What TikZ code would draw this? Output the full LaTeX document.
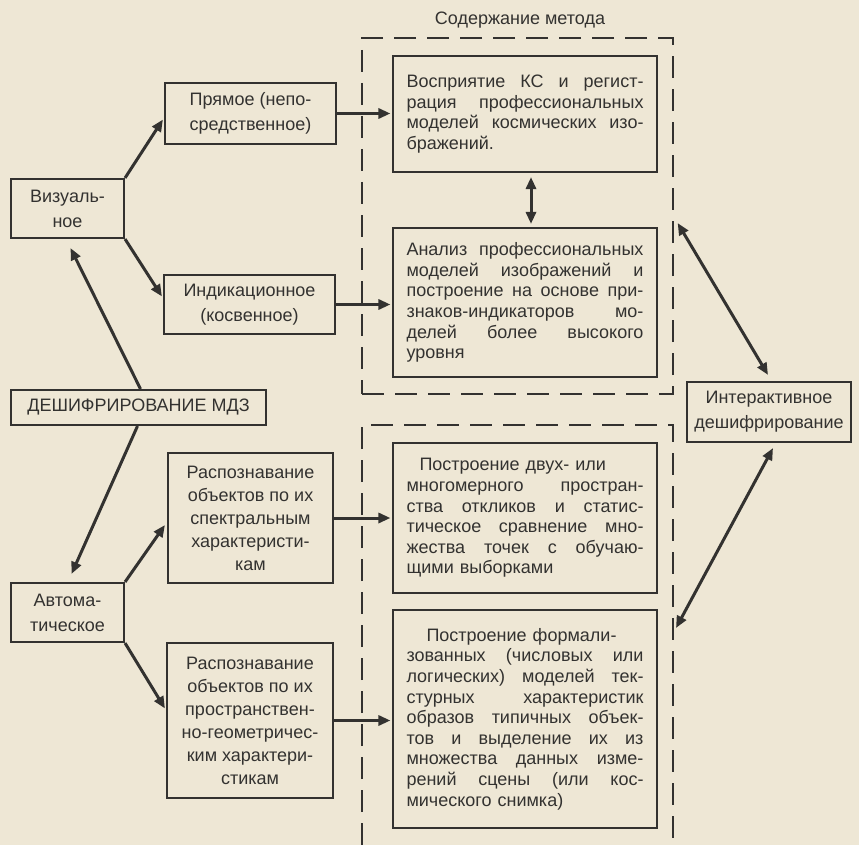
\documentclass[tikz,border=0pt]{standalone}
\usepackage{fontspec}
\setmainfont{Liberation Sans}
\usetikzlibrary{arrows.meta,calc}
\definecolor{bg}{HTML}{EEE7D5}
\definecolor{ink}{HTML}{333230}
\newcommand{\jl}[1]{{\spaceskip=\fontdimen2\font plus 1fil minus 0.1em\relax\makebox[237pt][s]{#1}}}
\tikzset{
  bx/.style={draw=ink, line width=2.1pt, text=ink, inner sep=0pt, align=center,
    font=\fontsize{18}{25}\selectfont},
  lbx/.style={bx, font=\fontsize{18}{23}\selectfont},
  rbx/.style={bx, align=left, text width=237pt, minimum width=264pt,
    font=\fontsize{18}{20.6}\selectfont},
  dashbox/.style={draw=ink, line width=1.3pt, dash pattern=on 22pt off 11pt},
  arr/.style={draw=ink, line width=3pt, -{Triangle[length=12pt,width=10pt]}},
  dbl/.style={draw=ink, line width=3pt, {Triangle[length=12pt,width=10pt]}-{Triangle[length=12pt,width=10pt]}}
}
\begin{document}
\begin{tikzpicture}[x=1pt,y=-1pt]
\fill[bg] (0,0) rectangle (859,845);
\useasboundingbox (0,0) rectangle (859,845);

% dashed groups
\node[dashbox, minimum width=311pt, minimum height=356pt, inner sep=0pt] (g1) at (517.5,216) {};
\draw[dashbox] (362,845) -- (362,425) -- (673,425) -- (673,845);
\coordinate (g2tip) at (676,628);
\node[text=ink, font=\fontsize{18}{20}\selectfont] (title) at (520,20) {Содержание метода};

% left column
\node[bx, minimum width=113pt, minimum height=59pt] (vis) at (67.5,208.5) {Визуаль-\\ное};
\node[bx, minimum width=255pt, minimum height=35pt] (desh) at (138.5,407.5) {ДЕШИФРИРОВАНИЕ МДЗ};
\node[bx, minimum width=113pt, minimum height=59pt] (avto) at (67.5,612.5) {Автома-\\тическое};

% middle column
\node[bx, minimum width=171pt, minimum height=61pt] (pryam) at (250.5,113.5) {Прямое (непо-\\средственное)};
\node[bx, minimum width=171pt, minimum height=59pt] (ind) at (249.5,304.5) {Индикационное\\(косвенное)};
\node[lbx, minimum width=165pt, minimum height=130pt] (rasp1) at (250.5,518) {Распознавание\\объектов по их\\спектральным\\характеристи-\\кам};
\node[lbx, minimum width=166pt, minimum height=155pt] (rasp2) at (250,720.5) {Распознавание\\объектов по их\\пространствен-\\но-геометричес-\\ким характери-\\стикам};

% right column
\node[rbx, minimum height=116pt] (vospr) at (525,114) {%
\jl{Восприятие КС и регист-}\\
\jl{рация профессиональных}\\
\jl{моделей космических изо-}\\
бражений.};
\node[rbx, minimum height=149pt] (anal) at (525,302.5) {%
\jl{Анализ профессиональных}\\
\jl{моделей изображений и}\\
\jl{построение на основе при-}\\
\jl{знаков-индикаторов мо-}\\
\jl{делей более высокого}\\
уровня};
\node[rbx, minimum height=150pt] (postr1) at (525,518) {%
\hspace*{13pt}Построение двух- или\\
\jl{многомерного простран-}\\
\jl{ства откликов и статис-}\\
\jl{тическое сравнение мно-}\\
\jl{жества точек с обучаю-}\\
щими выборками};
\node[rbx, minimum height=218pt] (postr2) at (525,719) {%
\hspace*{20pt}Построение формали-\\
\jl{зованных (числовых или}\\
\jl{логических) моделей тек-}\\
\jl{стурных характеристик}\\
\jl{образов типичных объек-}\\
\jl{тов и выделение их из}\\
\jl{множества данных изме-}\\
\jl{рений сцены (или кос-}\\
мического снимка)};

\node[bx, minimum width=164pt, minimum height=60pt] (inter) at (769,412) {Интерактивное\\дешифрирование};

% connectors
\draw[arr] (vis.north east) -- ($(pryam.west)+(-1,6)$);
\draw[arr] (vis.south east) -- ($(ind.west)+(-1,-8)$);
\draw[arr] ($(desh.north)+(2,0)$) -- ($(vis.south)+(3,9)$);
\draw[arr] ($(desh.south)+(-1,0)$) -- ($(avto.north)+(4,-8)$);
\draw[arr] (avto.north east) -- ($(rasp1.west)+(-2,7)$);
\draw[arr] (avto.south east) -- ($(rasp2.west)+(-1,-12)$);

\draw[arr, shorten >=1.5pt] (pryam.east) -- (pryam.east -| vospr.west);
\draw[arr, shorten >=1.5pt] (ind.east) -- (ind.east -| anal.west);
\draw[arr, shorten >=1.5pt] (rasp1.east) -- (rasp1.east -| postr1.west);
\draw[arr, shorten >=1.5pt] (rasp2.east) -- (rasp2.east -| postr2.west);

\draw[dbl, shorten <=4pt, shorten >=3pt] ($(vospr.south)+(6,0)$) -- ($(anal.north)+(6,0)$);
\draw[dbl] ($(g1.east)+(4,7)$) -- ($(inter.north)+(-1,-6)$);
\draw[dbl] ($(inter.south)+(4,5)$) -- (g2tip);
\end{tikzpicture}
\end{document}
